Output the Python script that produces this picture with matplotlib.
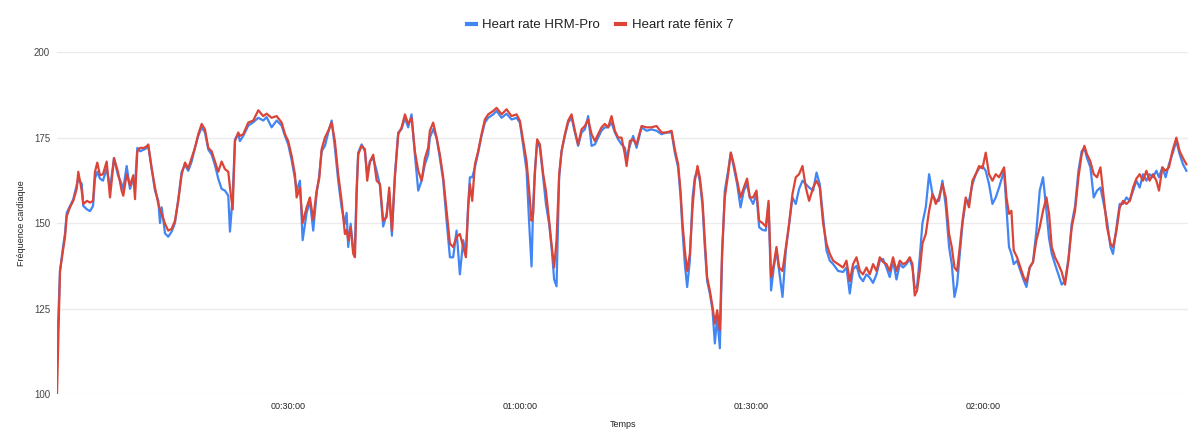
import matplotlib
matplotlib.use("Agg")
import matplotlib.pyplot as plt
from matplotlib.ticker import FixedLocator, FuncFormatter

plt.rcParams['font.family'] = ['Liberation Sans', 'DejaVu Sans']

# elapsed time (minutes) and heart rate (bpm)
t_min = [
    0, 0.39, 0.78, 1.04, 1.26, 1.68, 2.11, 2.55, 2.76, 3.20, 3.41, 3.89, 4.28, 4.67, 4.92,
    5.22, 5.57, 5.96, 6.44, 6.87, 7.39, 7.90, 8.38, 8.59, 9.03, 9.46, 9.89, 10.11, 10.41,
    10.76, 11.27, 11.66, 11.83, 12.27, 12.70, 13.13, 13.35, 13.57, 14.00, 14.42, 14.86,
    15.29, 15.72, 16.16, 16.59, 17.01, 17.45, 17.88, 18.31, 18.75, 19.18, 19.61, 20.05,
    20.47, 20.90, 21.34, 21.77, 22.20, 22.42, 22.77, 23.07, 23.49,
    23.71, 24.14, 24.79, 25.44, 26.09, 26.73, 27.17, 27.82, 28.47, 29.12, 29.55, 29.97,
    30.41, 30.84, 31.06, 31.49, 31.84, 32.36, 32.78, 33.21, 33.65, 33.99, 34.30, 34.73,
    35.16, 35.60, 36.02, 36.45, 36.89, 37.32, 37.54, 37.75, 38.06, 38.40, 38.62, 38.84,
    39.04, 39.48, 39.91, 40.21, 40.56, 40.99, 41.43, 41.86, 42.28, 42.72, 43.06, 43.41,
    43.80, 44.23, 44.67, 45.10, 45.52, 45.96, 46.39, 46.82, 47.26, 47.69, 48.11,
    48.33, 48.76, 49.20, 49.63, 50.06, 50.50, 50.93, 51.35, 51.79, 52.22, 52.65, 53.00,
    53.30, 53.52, 53.82, 54.17, 54.59, 55.03, 55.46, 55.89, 56.54, 56.98, 57.63, 58.27,
    58.92, 59.57, 60.00, 60.43, 60.87, 61.20, 61.51, 61.72, 61.94, 62.24, 62.59, 63.02,
    63.37, 63.79, 64.14, 64.44, 64.75, 65.09, 65.40, 65.83, 66.26, 66.70, 67.13, 67.55,
    67.99, 68.42, 68.85, 69.29, 69.72, 70.14, 70.58, 71.01, 71.44,
    71.88, 72.31, 72.74, 73.18, 73.61, 73.83, 74.25, 74.68, 75.12, 75.77, 76.42, 77.06,
    77.71, 78.36, 79.01, 79.66, 80.08, 80.51, 80.82, 81.08, 81.38, 81.68, 82.03, 82.38,
    82.68, 83.02, 83.32, 83.67, 83.97, 84.27, 84.62, 84.97, 85.27, 85.57, 85.92, 86.21,
    86.56, 86.99, 87.34, 87.73, 88.16, 88.60, 89.03, 89.45, 89.80, 90.23, 90.67, 91.01,
    91.45, 91.88, 92.23, 92.56, 92.91, 93.26, 93.60, 94.04, 94.47, 94.90, 95.33, 95.76,
    96.19, 96.63, 97.06, 97.49,
    98.01, 98.45, 98.87, 99.30, 99.74, 100.17, 100.60, 101.24, 101.89, 102.33, 102.76,
    103.19, 103.63, 104.06, 104.48, 104.92, 105.35, 105.78, 106.22, 106.65, 107.07,
    107.51, 107.94, 108.37, 108.81, 109.24, 109.67, 110.10, 110.53, 110.88, 111.18,
    111.48, 111.83, 112.18, 112.61, 113.04, 113.48, 113.91, 114.33, 114.77, 115.20,
    115.63, 115.98, 116.33, 116.67, 117.02, 117.37, 117.79, 118.22, 118.66, 119.09,
    119.52, 119.96, 120.38, 120.81, 121.25, 121.68, 122.11,
    122.76, 123.07, 123.40, 123.71, 124.01, 124.44, 124.88, 125.30, 125.66, 126.08,
    126.51, 126.95, 127.38, 127.81, 128.25, 128.59, 128.94, 129.36, 129.80, 130.23,
    130.66, 131.10, 131.53, 131.96, 132.40, 132.82, 133.17, 133.51, 133.95, 134.38,
    134.81, 135.25, 135.68, 136.10, 136.55, 136.88, 137.33, 137.75, 138.18, 138.62,
    139.05, 139.48, 139.91, 140.34, 140.77, 141.21, 141.63, 142.06, 142.50, 142.84,
    143.28, 143.70, 144.13, 144.57, 145.09, 145.52, 145.95, 146.39,
]

fenix7 = [
    100, 136, 142, 146, 152, 154.6, 156.5, 160, 165, 159.5, 155.6, 156.5, 156, 156.5, 165,
    167.7, 164, 164.3, 168, 157.5, 169, 165, 159.5, 158, 164.3, 161, 164, 157, 171,
    172, 172, 172.5, 173, 166, 160.4, 155.6, 154, 152.7, 149.8, 147.8, 148.3,
    150.7, 156.5, 164.3, 167.7, 166, 169, 172, 176, 179, 177.4, 172, 171,
    168, 165, 168, 165.8, 165, 160.4, 154, 174, 176.5,
    175.5, 176, 179.4, 180, 183, 181.3, 182, 180.8, 181.3, 179.4, 176, 174,
    169.7, 164.3, 157.5, 160.4, 150, 154.6, 157.5, 151, 159.5, 163, 171.6, 175,
    177, 179.4, 174, 164.3, 156.5, 146.8, 148, 145, 148.8, 141, 140, 158.5,
    170, 172.6, 171.6, 162.4, 168, 170, 162.4, 161.4, 150.7, 151.7, 160.4, 147.8,
    163.4, 176, 178, 181.8, 179, 180.8, 171, 165.3, 162.4, 169, 172,
    177, 179.4, 175, 170, 163.4, 153.6, 144, 143, 146, 146.8, 143, 140,
    154.6, 161.4, 156.5, 167.2, 171, 176, 180.3, 181.8, 182.8, 183.7, 181.8, 183.3,
    181.3, 181.8, 179.9, 174, 168, 159.5, 150.7, 152.7, 164.3, 174.5, 173, 164.3,
    159.5, 150.7, 143, 137, 145, 164.3, 171, 176, 180, 181.8, 177, 173,
    177.4, 178.4, 180.3, 176, 174, 176, 178, 179, 178,
    181.3, 177, 175, 175, 170, 166.7, 174, 174.5, 173, 178.4, 178, 178,
    178.4, 176.5, 176.5, 177, 171.6, 167.2, 159.5, 150, 142, 136, 141, 154.6,
    162.4, 166.7, 163.4, 156.5, 145, 134.2, 130.3, 125.5, 120.6, 124.5, 118.7, 142,
    157.5, 164.3, 170.6, 167.2, 162.4, 157.5, 160.4, 163, 157.5, 157.5, 159.5, 150.7,
    150, 149, 156.5, 134.2, 138, 143, 137, 136, 143, 149.8, 158.5, 163.4,
    164.3, 166.7, 160.4, 156.5,
    160.4, 162.4, 160.4, 150, 144, 141, 139, 138, 137, 139, 133,
    138, 140, 136, 135, 137, 135, 138, 136, 140, 138.6,
    138, 136, 140, 136, 139, 138, 138.5, 140, 138, 128.8,
    130.3, 136, 144, 146.8, 153.6, 158.5, 155.6, 157.5, 161.4, 157.5,
    146.8, 143, 137, 136, 143, 150.7, 157.5, 154.6, 162.4, 164.3,
    166.7, 166, 170.6, 164.3, 162.4, 164.3, 163.4,
    166.3, 157.5, 152.7, 153.6, 142, 140, 137, 134.2, 132.8, 137,
    138.6, 145, 148.8, 153.6, 157.5, 152.7, 143, 140, 138, 135.7,
    132, 139, 148.8, 153.6, 163.4, 170.1, 172.6, 170.1, 168, 164.3,
    163.4, 166.3, 157.5, 148.8, 144, 143, 147.8, 154.6, 156.5, 155.6,
    156.5, 160.4, 163, 164.3, 162.4, 165.3, 162.4, 164.3, 162.4, 159.5,
    166.3, 165.3, 166.3, 171, 175, 171, 169, 167.2,
]

hrm_pro = [
    112, 136, 143, 147, 153, 155, 157, 161, 163, 161.5, 155, 154, 153.5, 155, 163,
    165, 163, 162.4, 166, 160, 169, 164, 161.4, 160, 166.7, 160, 163, 161, 172,
    171, 171.5, 172, 172.5, 166, 159.5, 156.5, 150, 154.6, 147, 146, 147.5,
    150, 157, 165, 167, 165.3, 168, 172, 175.5, 178, 176.5, 171.5, 170,
    167, 163, 160, 159.5, 158, 147.5, 158, 174.5, 176,
    174, 175.5, 178.5, 179.5, 180.8, 180, 181, 178, 180, 178.5, 175.5, 173,
    168.5, 163, 159.5, 162.4, 145, 153, 156.5, 147.8, 158.5, 164, 171, 172.6,
    176.5, 180, 172, 162.4, 154.6, 149.8, 153, 143, 149.8, 142, 143.5, 160.4,
    170.6, 173, 171, 164.3, 168, 169, 165.3, 161, 149, 152.7, 159, 146.3,
    164.3, 176.5, 177.5, 180.8, 178, 181.8, 170, 159.5, 162.4, 167.2, 170,
    175, 177.5, 175, 169, 162.4, 150.7, 140, 140, 147.8, 135, 145, 141,
    155.6, 163.4, 163.4, 166.3, 170.6, 175.5, 179.4, 180.8, 181.8, 182.8, 180.8, 182,
    180.3, 180.8, 179.4, 172.6, 165.3, 150, 137.3, 155, 165.3, 174, 172, 163.4,
    155.6, 149.8, 142, 133.5, 131.5, 163.4, 171, 175.5, 179.4, 180.8, 176.5, 172.6,
    176.5, 177.4, 181.3, 172.6, 173, 175, 177, 178, 178,
    179.4, 176.5, 174.5, 173, 172, 169, 172.6, 175.5, 172, 178, 177, 177.4,
    177, 176, 176.5, 176.5, 170.6, 166.3, 158, 147.8, 138, 131.3, 139, 157.5,
    163.4, 165.3, 162.4, 155, 143, 133, 129.4, 124.5, 114.8, 122.5, 113.4, 140,
    159.5, 165.3, 170.6, 166.3, 161.4, 154.6, 159.5, 161.4, 157.5, 155.6, 158.5, 148.8,
    148, 147.8, 155.6, 130.3, 137, 142, 136, 128.4, 142, 149.8, 157.5, 155.6,
    160, 162.4, 161.4, 160.4,
    159.5, 164.8, 161.4, 151.7, 142, 139, 138, 136, 135.7, 137, 129.4,
    136.5, 137.5, 134.2, 133, 135, 134, 132.5, 135, 139, 139.5,
    137, 134.2, 139, 133.5, 138, 137, 138, 139.5, 137, 131,
    131.3, 140, 150, 154.6, 164.3, 158.5, 156.5, 156.5, 162.4, 155,
    143, 138, 128.4, 132, 141, 149.8, 156.5, 156.5, 161.4, 164.3,
    166, 166.7, 165.3, 161.4, 155.6, 157.5, 160.4,
    165.3, 154.6, 143, 141, 138, 139, 136, 133.3, 131.3, 137,
    138.6, 147.8, 159.5, 163.4, 153.6, 145.5, 141, 138, 135, 132,
    133, 139.5, 149.8, 155, 165.3, 171, 172, 169, 166.3, 157.5,
    159.5, 160.4, 155.6, 150.7, 143, 141, 148.8, 155.6, 155.6, 157.5,
    156.5, 159.5, 162.4, 160.4, 164.3, 162.4, 164.3, 163.4, 165.3, 163.4,
    166.3, 163.4, 167.2, 170.1, 174, 170.1, 167.2, 165.3,
]

y_ticks = [100, 125, 150, 175, 200]
x_ticks = [30, 60, 90, 120]

BLUE = '#4285f4'
RED = '#db4437'


def hms(m, pos=None):
    s = int(round(m * 60))
    return f"{s // 3600:02d}:{(s % 3600) // 60:02d}:{s % 60:02d}"


fig = plt.figure(figsize=(12, 4.42), dpi=100)
ax = fig.add_axes([0.0475, 0.1086, 0.9425, 0.7734])

ax.plot(t_min, hrm_pro, color=BLUE, lw=1.6, label='Heart rate HRM-Pro', zorder=3)
ax.plot(t_min, fenix7, color=RED, lw=1.6, label='Heart rate fēnix 7', zorder=4)

ax.set_xlim(0, 146.6)
ax.set_ylim(100, 200)
ax.yaxis.set_major_locator(FixedLocator(y_ticks))
ax.xaxis.set_major_locator(FixedLocator(x_ticks))
ax.xaxis.set_major_formatter(FuncFormatter(hms))
ax.grid(axis='y', color='#ebebeb', lw=1, zorder=0)
ax.set_axisbelow(True)
for sp in ax.spines.values():
    sp.set_visible(False)
ax.tick_params(axis='y', length=0, pad=5, labelsize=7, labelcolor='#444444')
ax.tick_params(axis='x', length=0, pad=6, labelsize=6.5, labelcolor='#222222')

ax.set_xlabel('Temps', fontsize=6.5, color='#222222', labelpad=6)
ax.set_ylabel('Fréquence cardiaque', fontsize=6.5, color='#222222', labelpad=6)

fig.legend(loc='center', bbox_to_anchor=(0.5, 0.943), ncol=2, frameon=False,
           fontsize=9.5, handlelength=0.7, handletextpad=0.5, columnspacing=1.2,
           labelcolor='#222222')
for h in fig.legends[0].get_lines():
    h.set_linewidth(3)

fig.savefig('out.png', dpi=100)
